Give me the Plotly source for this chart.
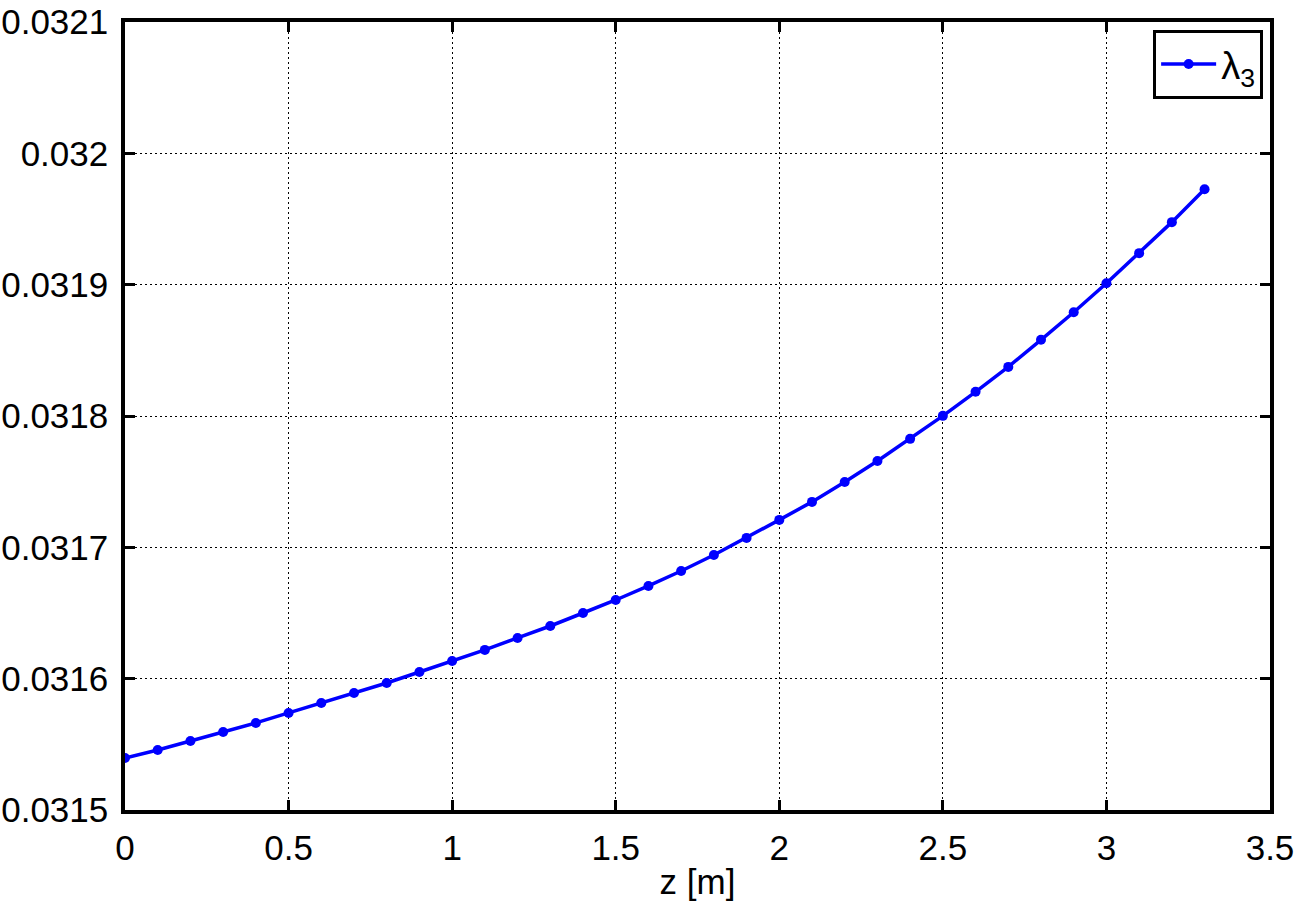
import plotly.graph_objects as go

z = [0.0, 0.1, 0.2, 0.3, 0.4, 0.5, 0.6, 0.7, 0.8, 0.9, 1.0, 1.1, 1.2, 1.3, 1.4, 1.5, 1.6,
     1.7, 1.8, 1.9, 2.0, 2.1, 2.2, 2.3, 2.4, 2.5, 2.6, 2.7, 2.8, 2.9, 3.0, 3.1, 3.2, 3.3]
lambda3 = [0.0315396, 0.0315457, 0.0315525, 0.0315594, 0.0315663, 0.0315739, 0.0315815,
           0.0315891, 0.0315967, 0.0316051, 0.0316135, 0.0316219, 0.0316310, 0.0316401,
           0.0316500, 0.0316599, 0.0316706, 0.0316820, 0.0316942, 0.0317072, 0.0317209,
           0.0317346, 0.0317498, 0.0317658, 0.0317826, 0.0318001, 0.0318184, 0.0318374,
           0.0318580, 0.0318790, 0.0319011, 0.0319240, 0.0319476, 0.0319727]

x_ticks = [0, 0.5, 1, 1.5, 2, 2.5, 3, 3.5]
x_ticktext = ["0", "0.5", "1", "1.5", "2", "2.5", "3", "3.5"]
y_ticks = [0.0315, 0.0316, 0.0317, 0.0318, 0.0319, 0.032, 0.0321]
y_ticktext = ["0.0315", "0.0316", "0.0317", "0.0318", "0.0319", "0.032", "0.0321"]

fig = go.Figure()
fig.add_trace(go.Scatter(
    x=z, y=lambda3, mode="lines+markers", name="λ<sub>3</sub>",
    line=dict(color="rgb(0,0,255)", width=3.5),
    marker=dict(color="rgb(0,0,255)", size=10),
))

font = dict(family="Liberation Sans, Arial, sans-serif", size=35, color="black")
axis_common = dict(
    showline=True, linecolor="black", linewidth=3.5, mirror="ticks",
    ticks="inside", ticklen=10, tickwidth=3, tickcolor="black",
    showgrid=True, gridcolor="black", griddash="2px,3px", gridwidth=1.2,
    zeroline=False, tickfont=font, automargin=False, ticklabeloverflow="allow",
)
fig.update_xaxes(range=[0, 3.5], tickvals=x_ticks, ticktext=x_ticktext,
                 ticklabelstandoff=4,
                 title=dict(text="z [m]", font=font, standoff=6), **axis_common)
fig.update_yaxes(range=[0.0315, 0.0321], tickvals=y_ticks, ticktext=y_ticktext,
                 ticklabelstandoff=6, **axis_common)

fig.update_layout(
    width=1299, height=901,
    margin=dict(l=125, r=29, t=22, b=91),
    plot_bgcolor="white", paper_bgcolor="white",
    font=font,
    showlegend=True,
    legend=dict(x=0.994, y=0.99, xanchor="right", yanchor="top",
                bordercolor="black", borderwidth=3, bgcolor="white", itemwidth=55,
                font=dict(family="Liberation Sans, Arial, sans-serif", size=38, color="black")),
)

fig.write_html("out.html", config={"displayModeBar": False},
               post_script="document.body.style.margin='0';")
